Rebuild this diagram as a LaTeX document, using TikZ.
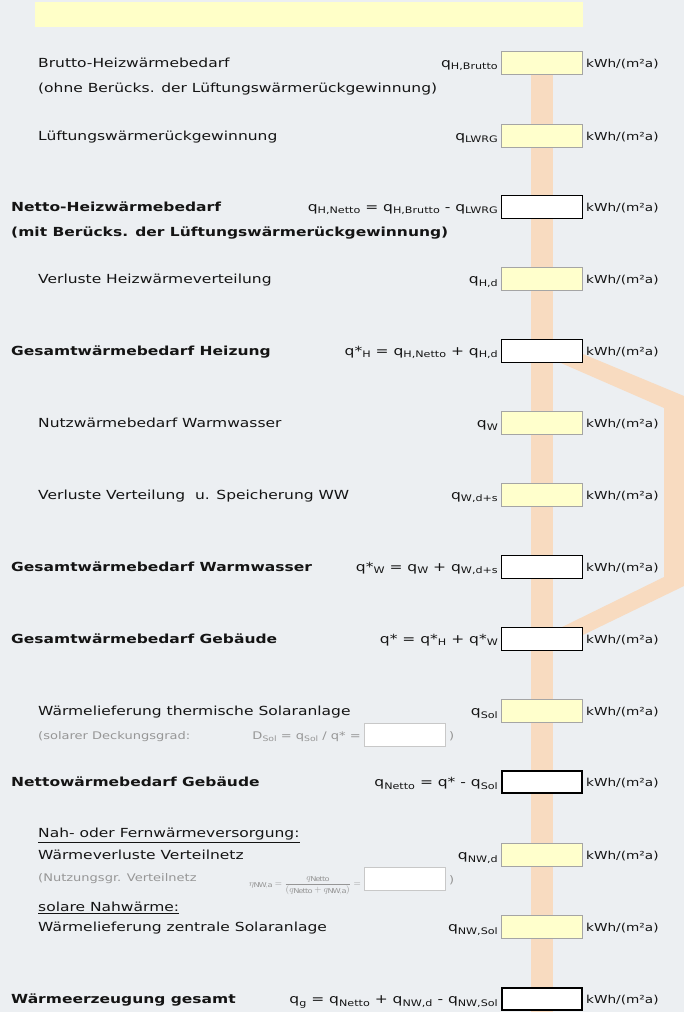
\documentclass[tikz,border=0pt]{standalone}
\usepackage{amsmath}
\usepackage{fontspec}
\setmainfont{DejaVu Sans}[FakeStretch=1.24]
\definecolor{bgc}{RGB}{236,239,242}
\definecolor{yfill}{RGB}{255,255,204}
\definecolor{ybar}{RGB}{255,255,200}
\definecolor{bordergray}{RGB}{165,165,165}
\definecolor{bandc}{RGB}{248,219,192}
\definecolor{txt}{RGB}{20,20,20}
\definecolor{graytxt}{RGB}{150,150,150}
\definecolor{lightborder}{RGB}{200,200,200}
\newcommand{\mainsz}{\fontsize{12.5}{15}\selectfont}
\newcommand{\unitsz}{\fontsize{11}{13}\selectfont}
\newcommand{\smallsz}{\fontsize{10.5}{12}\selectfont}
\newcommand{\qsub}[1]{\raisebox{-2.5pt}{\fontsize{9}{9}\selectfont #1}}
\newcommand{\gsub}[1]{\raisebox{-2pt}{\fontsize{7.5}{8}\selectfont #1}}
\tikzset{
  lbl/.style={anchor=base west, inner sep=0pt, font=\mainsz, text=txt},
  blbl/.style={anchor=base west, inner sep=0pt, font=\mainsz\bfseries, text=txt},
  frm/.style={anchor=base east, inner sep=0pt, font=\mainsz, text=txt},
  unit/.style={anchor=base west, inner sep=0pt, font=\unitsz, text=txt},
  glbl/.style={anchor=base west, inner sep=0pt, font=\smallsz, text=graytxt},
  gfrm/.style={anchor=base east, inner sep=0pt, font=\smallsz, text=graytxt},
  inbox/.style={draw=bordergray, fill=yfill, line width=1pt, minimum width=81pt, minimum height=23pt, inner sep=0pt},
  resbox/.style={draw=black, fill=white, line width=1pt, minimum width=81pt, minimum height=23pt, inner sep=0pt},
  totbox/.style={draw=black, fill=white, line width=2pt, minimum width=80pt, minimum height=22pt, inner sep=0pt},
  auxbox/.style={draw=lightborder, fill=white, line width=1pt, minimum width=81pt, minimum height=23pt, inner sep=0pt},
  bandline/.style={draw=bandc, line width=22pt},
  topbar/.style={fill=ybar, minimum width=548pt, minimum height=25pt, inner sep=0pt},
}
\begin{document}
\begin{tikzpicture}[x=1pt,y=-1pt]
\useasboundingbox (0,0) rectangle (684,1012);
\fill[bgc] (0,0) rectangle (684,1012);
% box centres
\coordinate (c1) at (542,62.5);
\coordinate (c2) at (542,135.5);
\coordinate (c3) at (542,206.5);
\coordinate (c4) at (542,279);
\coordinate (c5) at (542,350.5);
\coordinate (c6) at (542,423);
\coordinate (c7) at (542,494.5);
\coordinate (c8) at (542,566.5);
\coordinate (c9) at (542,638.5);
\coordinate (c10) at (542,711);
\coordinate (c11) at (542,782);
\coordinate (c12) at (542,855);
\coordinate (c13) at (542,927);
\coordinate (c14) at (542,999);
\coordinate (bandend) at (542,1012);
% bands
\draw[bandline] (c1) -- (bandend);
\fill[bandc] (554,342) -- (684,396) -- (684,586) -- (554,649) -- (554,631)
  -- (664,577) -- (664,408) -- (554,360) -- cycle;
% top bar
\node[topbar] (title) at (309,14.5) {};
% boxes
\node[inbox] (b1) at (c1) {};
\node[inbox] (b2) at (c2) {};
\node[resbox] (b3) at (c3) {};
\node[inbox] (b4) at (c4) {};
\node[resbox] (b5) at (c5) {};
\node[inbox] (b6) at (c6) {};
\node[inbox] (b7) at (c7) {};
\node[resbox] (b8) at (c8) {};
\node[resbox] (b9) at (c9) {};
\node[inbox] (b10) at (c10) {};
\node[totbox] (b11) at (c11) {};
\node[inbox] (b12) at (c12) {};
\node[inbox] (b13) at (c13) {};
\node[totbox] (b14) at (c14) {};
\node[auxbox] (d1) at (405,735) {};
\node[auxbox] (d2) at (405,879) {};
% units
\foreach \i/\y in {1/67,2/140,3/211,4/283.5,5/355,6/427.5,7/499,8/571,9/643,10/715.5,11/786.5,12/859.5,13/931.5,14/1003.5}
  \node[unit] (u\i) at (586,\y) {kWh/(m²a)};
% left labels
\node[lbl] (t1) at (38,67) {Brutto-Heizwärmebedarf};
\node[lbl] (t1b) at (38,92.5) {(ohne Berücks. der Lüftungswärmerückgewinnung)};
\node[lbl] (t2) at (38,140) {Lüftungswärmerückgewinnung};
\node[blbl] (t3) at (11,211) {Netto-Heizwärmebedarf};
\node[blbl] (t3b) at (11,236.5) {(mit Berücks. der Lüftungswärmerückgewinnung)};
\node[lbl] (t4) at (38,283.5) {Verluste Heizwärmeverteilung};
\node[blbl] (t5) at (11,355) {Gesamtwärmebedarf Heizung};
\node[lbl] (t6) at (38,427.5) {Nutzwärmebedarf Warmwasser};
\node[lbl] (t7) at (38,499) {Verluste Verteilung~ u. Speicherung WW};
\node[blbl] (t8) at (11,571) {Gesamtwärmebedarf Warmwasser};
\node[blbl] (t9) at (11,643) {Gesamtwärmebedarf Gebäude};
\node[lbl] (t10) at (38,715.5) {Wärmelieferung thermische Solaranlage};
\node[glbl] (t10b) at (38,739) {(solarer Deckungsgrad:};
\node[blbl] (t11) at (11,786.5) {Nettowärmebedarf Gebäude};
\node[lbl] (t12a) at (38,837.5) {\underline{Nah- oder Fernwärmeversorgung:}};
\node[lbl] (t12) at (38,859.5) {Wärmeverluste Verteilnetz};
\node[glbl] (t12b) at (38,881) {(Nutzungsgr. Verteilnetz};
\node[lbl] (t13a) at (38,911.5) {\underline{solare Nahwärme:}};
\node[lbl] (t13) at (38,931.5) {Wärmelieferung zentrale Solaranlage};
\node[blbl] (t14) at (11,1003.5) {Wärmeerzeugung gesamt};
% formulas
\node[frm] (f1) at (498,67) {q\qsub{H,Brutto}};
\node[frm] (f2) at (498,140) {q\qsub{LWRG}};
\node[frm] (f3) at (498,211) {q\qsub{H,Netto} = q\qsub{H,Brutto} - q\qsub{LWRG}};
\node[frm] (f4) at (498,283.5) {q\qsub{H,d}};
\node[frm] (f5) at (498,355) {q*\qsub{H} = q\qsub{H,Netto} + q\qsub{H,d}};
\node[frm] (f6) at (498,427.5) {q\qsub{W}};
\node[frm] (f7) at (498,499) {q\qsub{W,d+s}};
\node[frm] (f8) at (498,571) {q*\qsub{W} = q\qsub{W} + q\qsub{W,d+s}};
\node[frm] (f9) at (498,643) {q* = q*\qsub{H} + q*\qsub{W}};
\node[frm] (f10) at (498,715.5) {q\qsub{Sol}};
\node[frm] (f11) at (498,786.5) {q\qsub{Netto} = q* - q\qsub{Sol}};
\node[frm] (f12) at (498,859.5) {q\qsub{NW,d}};
\node[frm] (f13) at (498,931.5) {q\qsub{NW,Sol}};
\node[frm] (f14) at (498,1003.5) {q\qsub{g} = q\qsub{Netto} + q\qsub{NW,d} - q\qsub{NW,Sol}};
% gray formulas
\node[gfrm] (g1) at (361,739) {D\gsub{Sol} = q\gsub{Sol} / q* =};
\node[glbl] (g1c) at (449,739) {)};
\node[gfrm, font=\fontsize{9.5}{11}\selectfont] (g2) at (361,886)
  {$\eta_{\mathrm{NW,a}}=\dfrac{q_{\mathrm{Netto}}}{(q_{\mathrm{Netto}}+q_{\mathrm{NW,a}})}=$};
\node[glbl] (g2c) at (449,883) {)};
\end{tikzpicture}
\end{document}
